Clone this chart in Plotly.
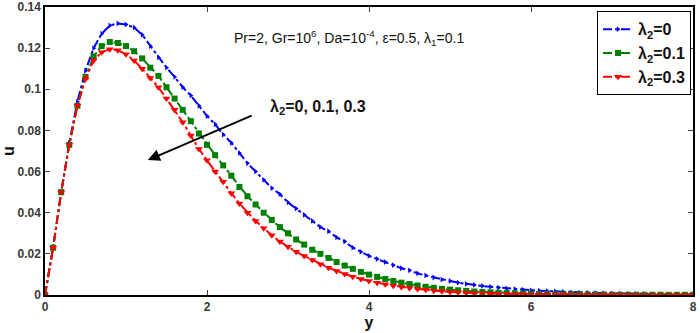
import plotly.graph_objects as go

y_vals = [round(0.1 * i, 1) for i in range(81)]

u_lam0 = [0, 0.023, 0.050, 0.074, 0.094, 0.109, 0.120, 0.127, 0.131, 0.132,
          0.1315, 0.130, 0.1265, 0.121, 0.1155, 0.1105, 0.106, 0.101, 0.097, 0.092,
          0.087, 0.083, 0.078, 0.074, 0.069, 0.064, 0.060, 0.056, 0.052, 0.049,
          0.045, 0.042, 0.039, 0.036, 0.033, 0.031, 0.028, 0.026, 0.023, 0.021,
          0.019, 0.0175, 0.016, 0.0145, 0.013, 0.012, 0.0105, 0.0095, 0.0085, 0.0075,
          0.0068, 0.006, 0.0054, 0.0049, 0.0044, 0.004, 0.0036, 0.0032, 0.0029, 0.0026,
          0.0023, 0.0021, 0.0019, 0.0017, 0.0015, 0.0013, 0.0012, 0.0011, 0.0010, 0.0009,
          0.0008, 0.0007, 0.0006, 0.0005, 0.0005, 0.0004, 0.0004, 0.0003, 0.0003, 0.0002,
          0.0002]

u_lam01 = [0, 0.023, 0.050, 0.073, 0.092, 0.106, 0.116, 0.121, 0.123, 0.1225,
           0.121, 0.1185, 0.115, 0.1105, 0.1065, 0.101, 0.0955, 0.090, 0.0845, 0.0785,
           0.073, 0.068, 0.063, 0.058, 0.0525, 0.048, 0.044, 0.040, 0.0365, 0.033,
           0.030, 0.027, 0.0245, 0.022, 0.020, 0.018, 0.016, 0.0143, 0.0127, 0.0112,
           0.0099, 0.0088, 0.0078, 0.0068, 0.006, 0.0053, 0.0046, 0.004, 0.0035, 0.003,
           0.0026, 0.0023, 0.002, 0.0017, 0.0015, 0.0013, 0.0011, 0.001, 0.0008, 0.0007,
           0.0006, 0.0005, 0.0005, 0.0004, 0.0004, 0.0003, 0.0003, 0.0002, 0.0002, 0.0002,
           0.0001, 0.0001, 0.0001, 0.0001, 0.0001, 0.0001, 0.0001, 0.0001, 0.0001, 0.0001,
           0.0001]

u_lam03 = [0, 0.023, 0.050, 0.073, 0.092, 0.105, 0.114, 0.118, 0.1195, 0.119,
           0.117, 0.114, 0.110, 0.1055, 0.101, 0.0955, 0.090, 0.084, 0.0775, 0.071,
           0.0655, 0.060, 0.055, 0.0495, 0.0445, 0.040, 0.036, 0.0325, 0.029, 0.026,
           0.0235, 0.021, 0.019, 0.017, 0.015, 0.0133, 0.0117, 0.0102, 0.0089, 0.0078,
           0.0068, 0.006, 0.0052, 0.0045, 0.0039, 0.0034, 0.0029, 0.0025, 0.0021, 0.0018,
           0.0015, 0.0013, 0.0011, 0.0009, 0.0008, 0.0007, 0.0006, 0.0005, 0.0004, 0.0004,
           0.0003, 0.0003, 0.0002, 0.0002, 0.0002, 0.0001, 0.0001, 0.0001, 0.0001, 0.0001,
           0.0001, 0.0001, 0.0, 0.0, 0.0, 0.0, 0.0, 0.0, 0.0, 0.0,
           0.0]

series_names = ["<b>λ<sub>2</sub>=0</b>", "<b>λ<sub>2</sub>=0.1</b>", "<b>λ<sub>2</sub>=0.3</b>"]
series_colors = ["#0000ff", "#008000", "#ff0000"]
series_symbols = ["triangle-right", "square", "triangle-down"]
series_sizes = [5, 6, 7]

x_ticks = [0, 2, 4, 6, 8]
x_ticktext = ["<b>0</b>", "<b>2</b>", "<b>4</b>", "<b>6</b>", "<b>8</b>"]
u_ticks = [0, 0.02, 0.04, 0.06, 0.08, 0.1, 0.12, 0.14]
u_ticktext = ["<b>0</b>", "<b>0.02</b>", "<b>0.04</b>", "<b>0.06</b>", "<b>0.08</b>",
              "<b>0.1</b>", "<b>0.12</b>", "<b>0.14</b>"]

fig = go.Figure()
for vals, name, col, sym, sz in zip([u_lam0, u_lam01, u_lam03], series_names,
                                     series_colors, series_symbols, series_sizes):
    fig.add_trace(go.Scatter(
        x=y_vals, y=vals, name=name, mode="lines+markers",
        line=dict(color=col, width=2, dash="dashdot"),
        marker=dict(symbol=sym, size=sz, color=col, line=dict(width=0)),
    ))

axis_font = dict(family="Liberation Sans, Arial", size=12, color="#3a3a3a")
fig.update_layout(
    width=700, height=333,
    margin=dict(l=45, r=7, t=7, b=38, autoexpand=False),
    paper_bgcolor="white", plot_bgcolor="white",
    showlegend=True,
    legend=dict(x=0.997, y=0.985, xanchor="right", yanchor="top",
                bordercolor="black", borderwidth=1, bgcolor="white",
                font=dict(family="Liberation Sans, Arial", size=16, color="#111111"),
                itemwidth=30, tracegroupgap=0),
    font=dict(family="Liberation Sans, Arial"),
)
fig.update_xaxes(range=[0, 8], tickvals=x_ticks, ticktext=x_ticktext,
                 ticks="inside", ticklen=5, automargin=False,
                 showline=True, linecolor="black", linewidth=1.5, mirror="ticks",
                 showgrid=False, zeroline=False, tickfont=axis_font,
                 title=dict(text="<b>y</b>", font=dict(size=16, color="#111111"), standoff=0))
fig.update_yaxes(range=[0, 0.14], tickvals=u_ticks, ticktext=u_ticktext,
                 ticks="inside", ticklen=5, automargin=False,
                 showline=True, linecolor="black", linewidth=1.5, mirror="ticks",
                 showgrid=False, zeroline=False, tickfont=axis_font,
                 title=dict(text="<b>u</b>", font=dict(size=16, color="#111111"), standoff=2))

fig.add_annotation(x=3.75, y=0.125, xref="x", yref="y", showarrow=False,
                   text="Pr=2, Gr=10<sup>6</sup>, Da=10<sup>-4</sup>, ε=0.5, λ<sub>1</sub>=0.1",
                   font=dict(family="Liberation Sans, Arial", size=14, color="#111111"))
fig.add_annotation(x=2.75, y=0.091, xref="x", yref="y", showarrow=False, xanchor="left",
                   text="<b>λ<sub>2</sub>=0, 0.1, 0.3</b>",
                   font=dict(family="Liberation Sans, Arial", size=16, color="#111111"))
fig.add_annotation(x=1.27, y=0.0656, ax=2.57, ay=0.0875, xref="x", yref="y",
                   axref="x", ayref="y", showarrow=True, arrowhead=2, arrowsize=1.2,
                   arrowwidth=2, arrowcolor="black", text="")

fig.write_html("out.html", config={"displayModeBar": False},
               post_script="document.body.style.margin='0px';document.body.style.overflow='hidden';")
